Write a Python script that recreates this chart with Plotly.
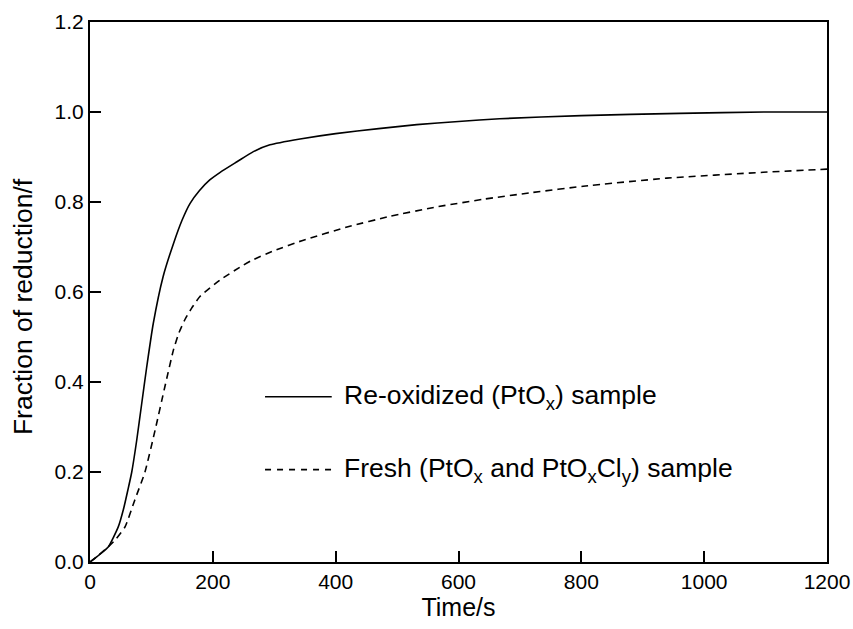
import plotly.graph_objects as go

# Re-oxidized (PtOx) sample
t_reox = [0, 15, 30, 46, 55, 62, 68, 76, 84, 92, 103, 119, 136, 150, 163, 178, 195, 212, 240,
          266, 293, 342, 400, 470, 532, 600, 667, 800, 960, 1100, 1200]
f_reox = [0, 0.016, 0.034, 0.078, 0.12, 0.162, 0.2, 0.27, 0.35, 0.43, 0.53, 0.634, 0.708, 0.76,
          0.797, 0.825, 0.849, 0.866, 0.89, 0.912, 0.927, 0.940, 0.952, 0.963, 0.972, 0.979,
          0.985, 0.992, 0.997, 1.0, 1.0]

# Fresh (PtOx and PtOxCly) sample
t_fresh = [0, 15, 30, 41, 57, 73, 89.5, 106, 122, 136, 145, 155, 165, 179, 212, 244, 263, 300,
           345, 420, 488, 560, 640, 720, 803, 939, 1096, 1200]
f_fresh = [0, 0.016, 0.034, 0.049, 0.078, 0.138, 0.2, 0.293, 0.39, 0.472, 0.51, 0.54, 0.563,
           0.59, 0.627, 0.655, 0.670, 0.692, 0.714, 0.745, 0.768, 0.788, 0.806, 0.821, 0.835,
           0.853, 0.866, 0.873]

legend_labels = ["Re-oxidized (PtO<sub>x</sub>) sample",
                 "Fresh (PtO<sub>x</sub> and PtO<sub>x</sub>Cl<sub>y</sub>) sample"]

x_ticks = [0, 200, 400, 600, 800, 1000, 1200]
y_ticks = [0.0, 0.2, 0.4, 0.6, 0.8, 1.0, 1.2]
x_title = "Time/s"
y_title = "Fraction of reduction/f"

FONT = "Liberation Sans, Arial, Helvetica, sans-serif"

fig = go.Figure()
fig.add_trace(go.Scatter(x=t_reox, y=f_reox, mode="lines",
                         line=dict(color="black", width=1.6, shape="spline", smoothing=0.5),
                         showlegend=False))
fig.add_trace(go.Scatter(x=t_fresh, y=f_fresh, mode="lines",
                         line=dict(color="black", width=1.6, dash="7px,5px", shape="spline", smoothing=0.5),
                         showlegend=False))

# legend (samples + labels)
leg_y = [0.306, 0.171]
dashes = ["solid", "6px,6px"]
for yy, lab, d in zip(leg_y, legend_labels, dashes):
    fig.add_shape(type="line", xref="paper", yref="paper", x0=0.2375, x1=0.328, y0=yy, y1=yy,
                  line=dict(color="black", width=1.6, dash=d))
    fig.add_annotation(xref="paper", yref="paper", x=0.342, y=yy, text=lab, showarrow=False,
                       xanchor="left", yanchor="middle",
                       font=dict(family=FONT, size=26.5, color="black"))

# y-axis title (placed slightly below the axis centre, as in the reference)
fig.add_annotation(xref="paper", yref="paper", x=-0.0916, y=0.473, text=y_title, showarrow=False,
                   textangle=-90, xanchor="center", yanchor="middle",
                   font=dict(family=FONT, size=26.5, color="black"))

axis_common = dict(showline=True, linecolor="black", linewidth=2, mirror=True, ticks="inside",
                   ticklen=11, tickwidth=2, tickcolor="black", showgrid=False, zeroline=False,
                   automargin=False, tickfont=dict(family=FONT, size=21, color="black"))

fig.update_xaxes(range=[0, 1200], tickvals=x_ticks, ticktext=[str(v) for v in x_ticks],
                 title=dict(text=x_title, font=dict(family=FONT, size=25, color="black"), standoff=4),
                 **axis_common)
fig.update_yaxes(range=[0, 1.2], tickvals=y_ticks, ticktext=[f"{v:.1f}" for v in y_ticks],
                 **axis_common)

fig.update_layout(width=853, height=629, margin=dict(l=90, r=26, t=22, b=67),
                  plot_bgcolor="white", paper_bgcolor="white",
                  font=dict(family=FONT, color="black"))

fig.write_html("out.html")
